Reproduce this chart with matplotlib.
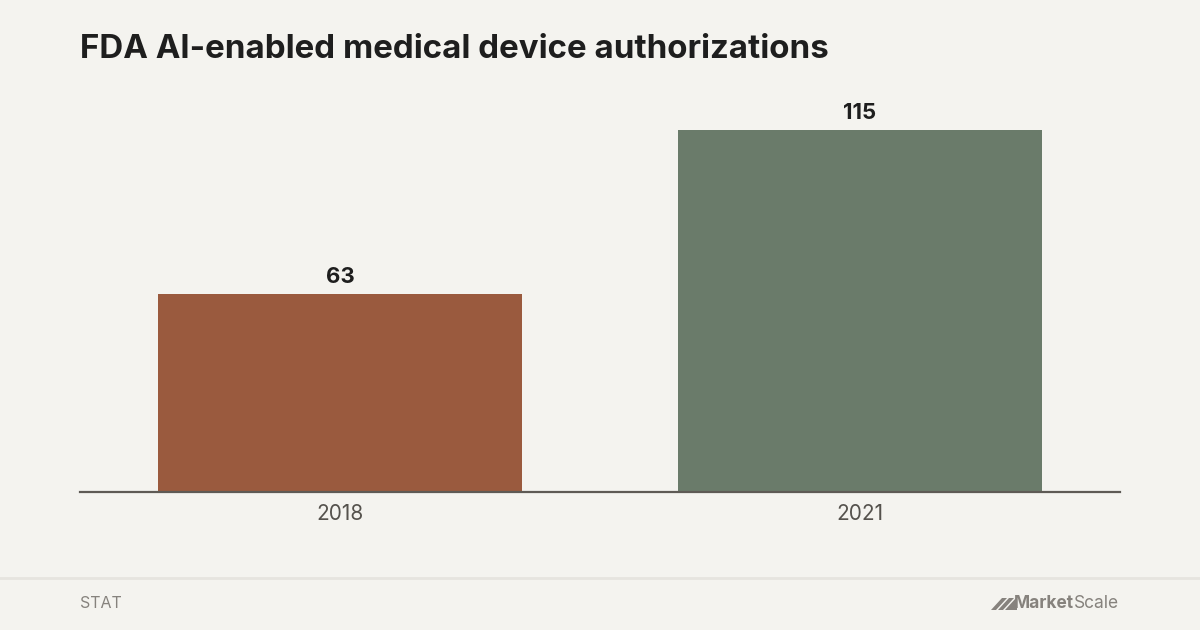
import matplotlib
matplotlib.use("Agg")
import matplotlib.pyplot as plt
from matplotlib.patches import Polygon

# data
years = ["2018", "2021"]
counts = [63, 115]
bar_colors = ["#9A5A3E", "#6A7B6A"]

title = "FDA AI-enabled medical device authorizations"
source = "STAT"

bg = "#F4F3EF"
plt.rcParams['font.family'] = ['Inter', 'DejaVu Sans']

fig = plt.figure(figsize=(12, 6.3), dpi=100)
fig.patch.set_facecolor(bg)

# axes: x 80..1120 px, baseline at y=492 px, top at 100 px
ax = fig.add_axes([80 / 1200, (630 - 492) / 630, 1040 / 1200, 392 / 630])
ax.set_facecolor(bg)

x = range(len(years))
bars = ax.bar(x, counts, width=0.7, color=bar_colors, zorder=2)
ax.set_xlim(-0.5, len(years) - 0.5)
ax.set_ylim(0, 124.5)

for b, v in zip(bars, counts):
    ax.annotate(str(v), (b.get_x() + b.get_width() / 2, v), xytext=(0, 5),
                textcoords="offset points", ha="center", va="bottom",
                fontsize=16, fontweight="bold", color="#1E1E1E")

ax.set_xticks(list(x))
ax.set_xticklabels(years, fontsize=15, color="#55524D")
ax.tick_params(axis="x", length=0, pad=9)
ax.set_yticks([])
for s in ["top", "right", "left"]:
    ax.spines[s].set_visible(False)
ax.spines["bottom"].set_color("#5E5A55")
ax.spines["bottom"].set_linewidth(1.6)
ax.spines["bottom"].set_zorder(3)

# title
fig.text(80 / 1200, 1 - 49 / 630, title, ha="left", va="center",
         fontsize=23.8, fontweight="bold", color="#1E1E1E")

# footer
fig.add_artist(plt.Line2D([0, 1], [1 - 578 / 630] * 2, color="#E6E4DF", lw=2))
fig.text(80 / 1200, 1 - 603 / 630, source, ha="left", va="center",
         fontsize=11.5, color="#86827D")

# MarketScale logo
t2 = fig.text(1119 / 1200, 1 - 604 / 630, "Scale", ha="right", va="center",
              fontsize=12.5, color="#86827D")
fig.canvas.draw()
bb = t2.get_window_extent()
fig.text(bb.x0 / 1200, 1 - 604 / 630, "Market", ha="right", va="center",
         fontsize=12.5, fontweight="bold", color="#86827D")
icon = [[(991, 610), (1002, 598), (1007, 598), (996, 610)],
        [(998, 610), (1009, 598), (1014, 598), (1003, 610)],
        [(1005, 610), (1016, 598), (1017, 598), (1017, 610)]]
for pts in icon:
    fig.add_artist(Polygon([(px / 1200, 1 - py / 630) for px, py in pts],
                           closed=True, transform=fig.transFigure,
                           color="#86827D", lw=0))

fig.savefig("out.png", dpi=100, facecolor=bg)
